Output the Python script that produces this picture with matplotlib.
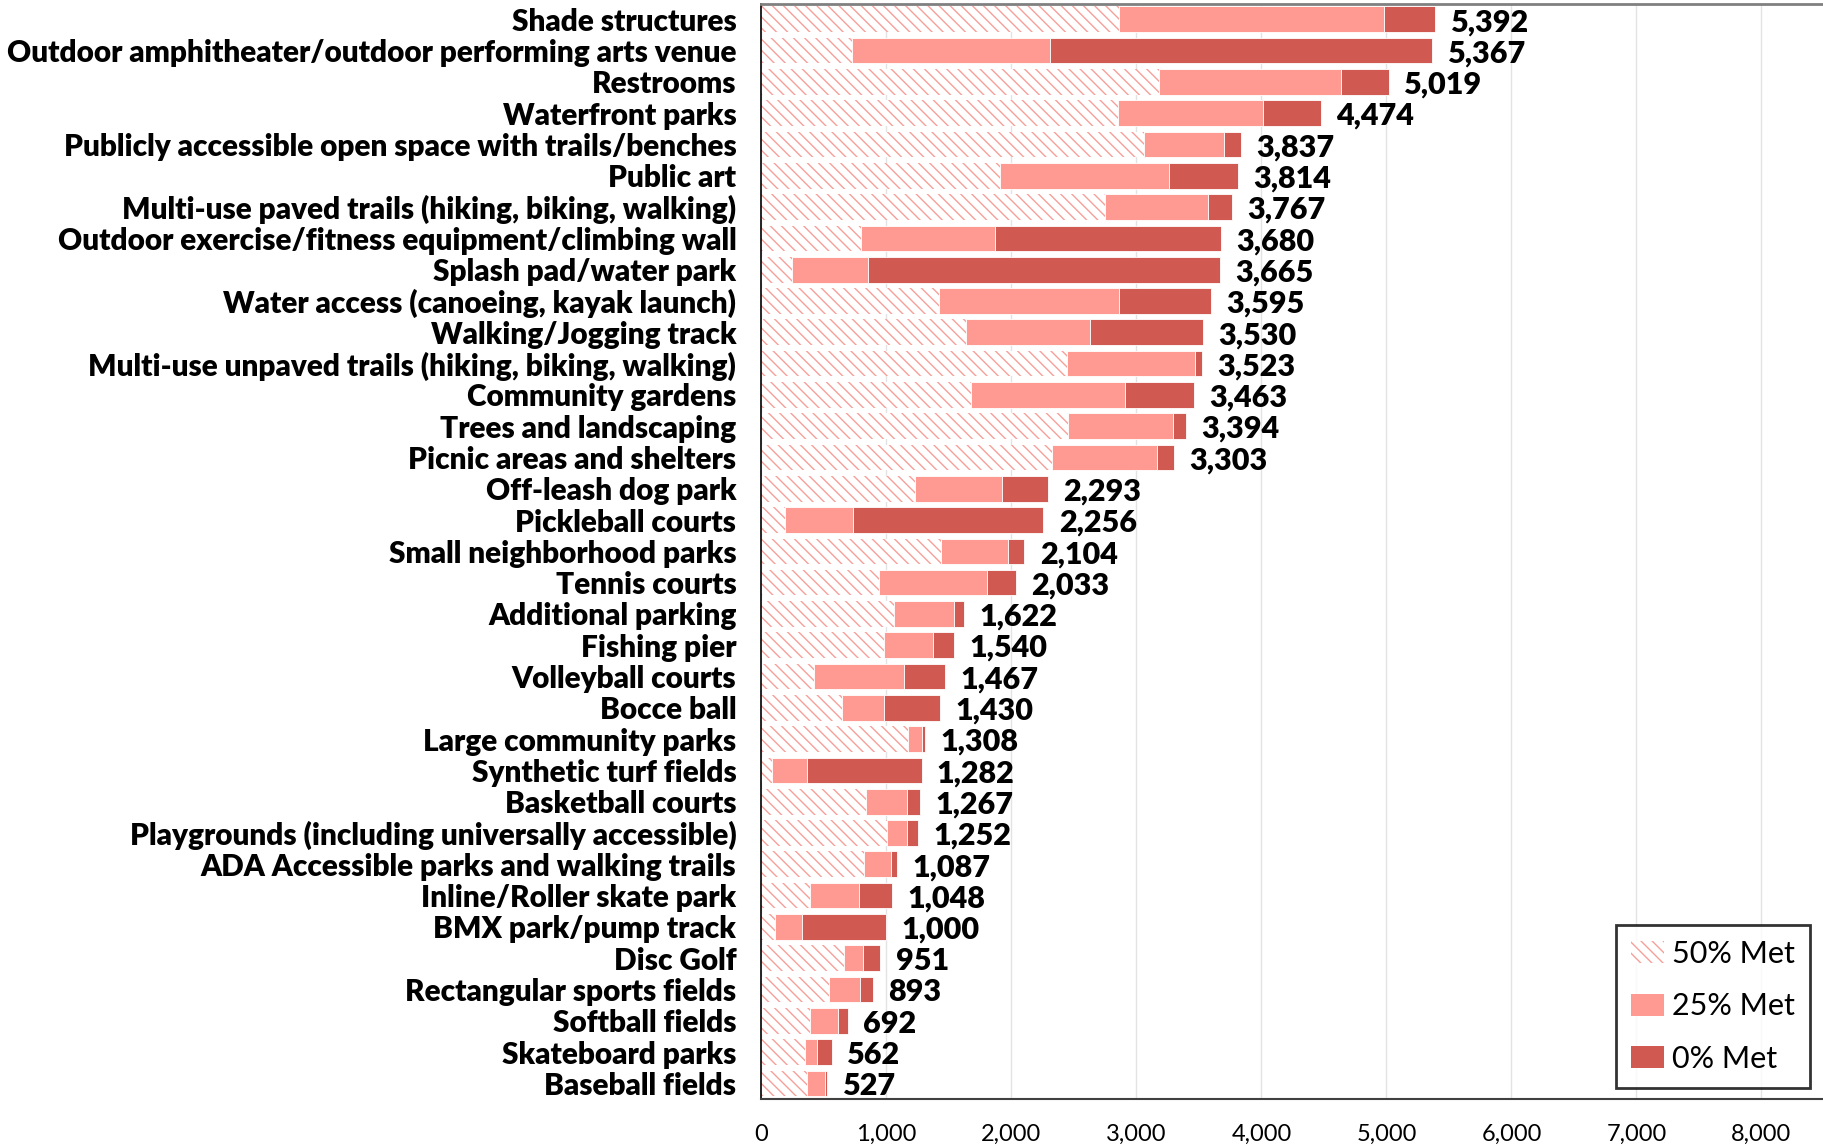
import matplotlib.pyplot as plt
from matplotlib.patches import Patch

# Data (stacked: 50% Met, 25% Met, 0% Met)
categories = [
    "Shade structures",
    "Outdoor amphitheater/outdoor performing arts venue",
    "Restrooms",
    "Waterfront parks",
    "Publicly accessible open space with trails/benches",
    "Public art",
    "Multi-use paved trails (hiking, biking, walking)",
    "Outdoor exercise/fitness equipment/climbing wall",
    "Splash pad/water park",
    "Water access (canoeing, kayak launch)",
    "Walking/Jogging track",
    "Multi-use unpaved trails (hiking, biking, walking)",
    "Community gardens",
    "Trees and landscaping",
    "Picnic areas and shelters",
    "Off-leash dog park",
    "Pickleball courts",
    "Small neighborhood parks",
    "Tennis courts",
    "Additional parking",
    "Fishing pier",
    "Volleyball courts",
    "Bocce ball",
    "Large community parks",
    "Synthetic turf fields",
    "Basketball courts",
    "Playgrounds (including universally accessible)",
    "ADA Accessible parks and walking trails",
    "Inline/Roller skate park",
    "BMX park/pump track",
    "Disc Golf",
    "Rectangular sports fields",
    "Softball fields",
    "Skateboard parks",
    "Baseball fields",
]
met50 = [2861, 727, 3180, 2849, 3057, 1910, 2751, 796, 245, 1424, 1637, 2441,
         1678, 2449, 2322, 1233, 188, 1441, 943, 1061, 980, 420, 645, 1176,
         83, 835, 1006, 818, 387, 111, 663, 542, 387, 348, 365]
met25 = [2123, 1583, 1457, 1167, 645, 1347, 820, 1073, 608, 1433, 992, 1028,
         1228, 841, 845, 694, 547, 530, 861, 478, 391, 719, 335, 110,
         282, 331, 160, 221, 392, 215, 150, 248, 227, 94, 144]
totals = [5392, 5367, 5019, 4474, 3837, 3814, 3767, 3680, 3665, 3595, 3530, 3523,
          3463, 3394, 3303, 2293, 2256, 2104, 2033, 1622, 1540, 1467, 1430, 1308,
          1282, 1267, 1252, 1087, 1048, 1000, 951, 893, 692, 562, 527]
met0 = [t - a - b for t, a, b in zip(totals, met50, met25)]

c_hatch = "#F6A09A"
c_25 = "#FF9A93"
c_0 = "#D05A52"
hatch = "\\\\\\"

plt.rcParams['font.family'] = ['Lato', 'DejaVu Sans']
plt.rcParams['hatch.linewidth'] = 1.0

fig = plt.figure(figsize=(18.24, 11.47), dpi=100)
ax = fig.add_axes([0.4174, 0.0418, 0.5826, 0.955])

y = list(range(len(categories)))
h = 0.82
ax.barh(y, met50, height=h, color="white", edgecolor=c_hatch, hatch=hatch, linewidth=0, zorder=2)
ax.barh(y, met25, left=met50, height=h, color=c_25, edgecolor="white", linewidth=0.6, zorder=2)
lefts0 = [a + b for a, b in zip(met50, met25)]
ax.barh(y, met0, left=lefts0, height=h, color=c_0, edgecolor="white", linewidth=0.6, zorder=2)

for yi, t in zip(y, totals):
    ax.annotate(f"{t:,}", (t, yi), xytext=(11, -2), textcoords="offset points",
                ha="left", va="center", fontsize=22, fontweight="heavy")

ax.set_ylim(len(categories) - 0.5, -0.5)
ax.set_xlim(0, 8500)
ax.set_xticks(range(0, 9000, 1000))
ax.set_xticklabels([f"{v:,}" for v in range(0, 9000, 1000)], fontsize=17)
ax.set_yticks(y)
ax.set_yticklabels(categories, fontsize=21.4, fontweight="heavy")
ax.tick_params(axis="both", length=0)
ax.tick_params(axis="x", pad=18)
ax.tick_params(axis="y", pad=18)
ax.grid(axis="x", color="#E3E3E3", linewidth=1, zorder=0)
ax.set_axisbelow(True)

ax.spines["right"].set_visible(False)
ax.spines["top"].set_color("#808080")
ax.spines["top"].set_linewidth(2)
ax.spines["left"].set_color("black")
ax.spines["left"].set_linewidth(1.2)
ax.spines["bottom"].set_color("#404040")
ax.spines["bottom"].set_linewidth(1.5)

handles = [
    Patch(facecolor="white", edgecolor=c_hatch, hatch=hatch, linewidth=0, label="50% Met"),
    Patch(facecolor=c_25, label="25% Met"),
    Patch(facecolor=c_0, label="0% Met"),
]
leg = ax.legend(handles=handles, loc="lower right", bbox_to_anchor=(0.987, 0.01),
                borderaxespad=0, fontsize=22, frameon=True, fancybox=False,
                labelspacing=0.8, handlelength=1.08, handleheight=0.72,
                handletextpad=0.25, borderpad=0.5)
leg.get_frame().set_edgecolor("black")
leg.get_frame().set_linewidth(2)

plt.savefig("out.png", dpi=100)
